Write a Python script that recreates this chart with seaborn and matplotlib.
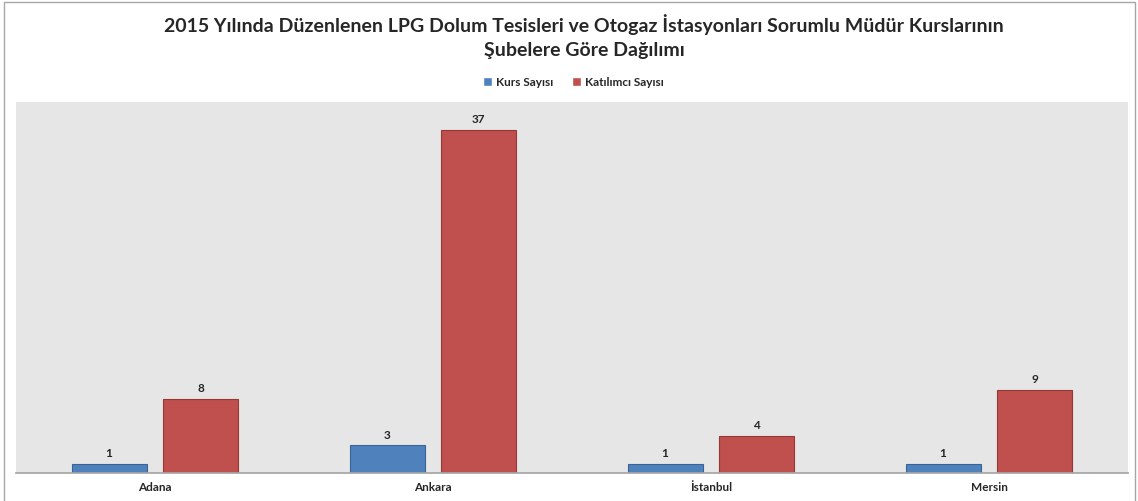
import pandas as pd
import seaborn as sns
import matplotlib.pyplot as plt
from matplotlib.patches import Rectangle

# veriler
subeler = ["Adana", "Ankara", "İstanbul", "Mersin"]
kurs_sayisi = [1, 3, 1, 1]
katilimci_sayisi = [8, 37, 4, 9]
seriler = ["Kurs Sayısı", "Katılımcı Sayısı"]
renkler = ["#4f81bd", "#c0504d"]

tablo = pd.DataFrame({
    "Şube": subeler * 2,
    "Seri": [seriler[0]] * 4 + [seriler[1]] * 4,
    "Değer": kurs_sayisi + katilimci_sayisi,
})

sns.set_theme(style="white")
plt.rcParams["font.family"] = ["Lato", "DejaVu Sans"]

fig = plt.figure(figsize=(11.38, 5.02), dpi=100)
ax = fig.add_axes([16 / 1138, 1 - 474 / 502, 1112 / 1138, 371 / 502])
ax.set_facecolor("#e6e6e6")

sns.barplot(data=tablo, x="Şube", y="Değer", hue="Seri", palette=renkler,
            width=0.66, gap=0.18, saturation=1, ax=ax)

# kenar rengi biraz koyu
kenarlar = ["#3a6396"] * 4 + ["#953735"] * 4
for bar, k in zip(ax.patches, kenarlar):
    bar.set_edgecolor(k)
    bar.set_linewidth(0.8)

for cont in ax.containers:
    ax.bar_label(cont, padding=4, fontsize=8.5, fontweight="bold")

ax.set_ylim(0, 40)
ax.set_xlim(-0.5, 3.5)
ax.set_yticks([])
ax.set_xlabel("")
ax.set_ylabel("")
for s in ["top", "left", "right"]:
    ax.spines[s].set_visible(False)
ax.spines["bottom"].set_color("#a6a6a6")
ax.tick_params(axis="x", length=0, pad=6)
for t in ax.get_xticklabels():
    t.set_fontsize(8.5)
    t.set_fontweight("bold")

ax.legend_.remove()
h, l = ax.get_legend_handles_labels()
fig.legend(h[:2], l[:2], loc="center", bbox_to_anchor=(573 / 1138, 1 - 83 / 502),
           ncol=2, frameon=False, prop={"size": 8.5, "weight": "bold"},
           handlelength=0.8, handleheight=0.8, handletextpad=0.3, columnspacing=1.6)

fig.text(584 / 1138, 1 - 37 / 502,
         "2015 Yılında Düzenlenen LPG Dolum Tesisleri ve Otogaz İstasyonları Sorumlu Müdür Kurslarının\nŞubelere Göre Dağılımı",
         ha="center", va="center", fontsize=14, fontweight="bold", linespacing=1.5)

fig.add_artist(Rectangle((4 / 1138, -0.01), 1131 / 1138, 1 - 3 / 502 + 0.01,
                         transform=fig.transFigure, fill=False,
                         edgecolor="#a6a6a6", linewidth=1))

fig.savefig("out.png", dpi=100)
